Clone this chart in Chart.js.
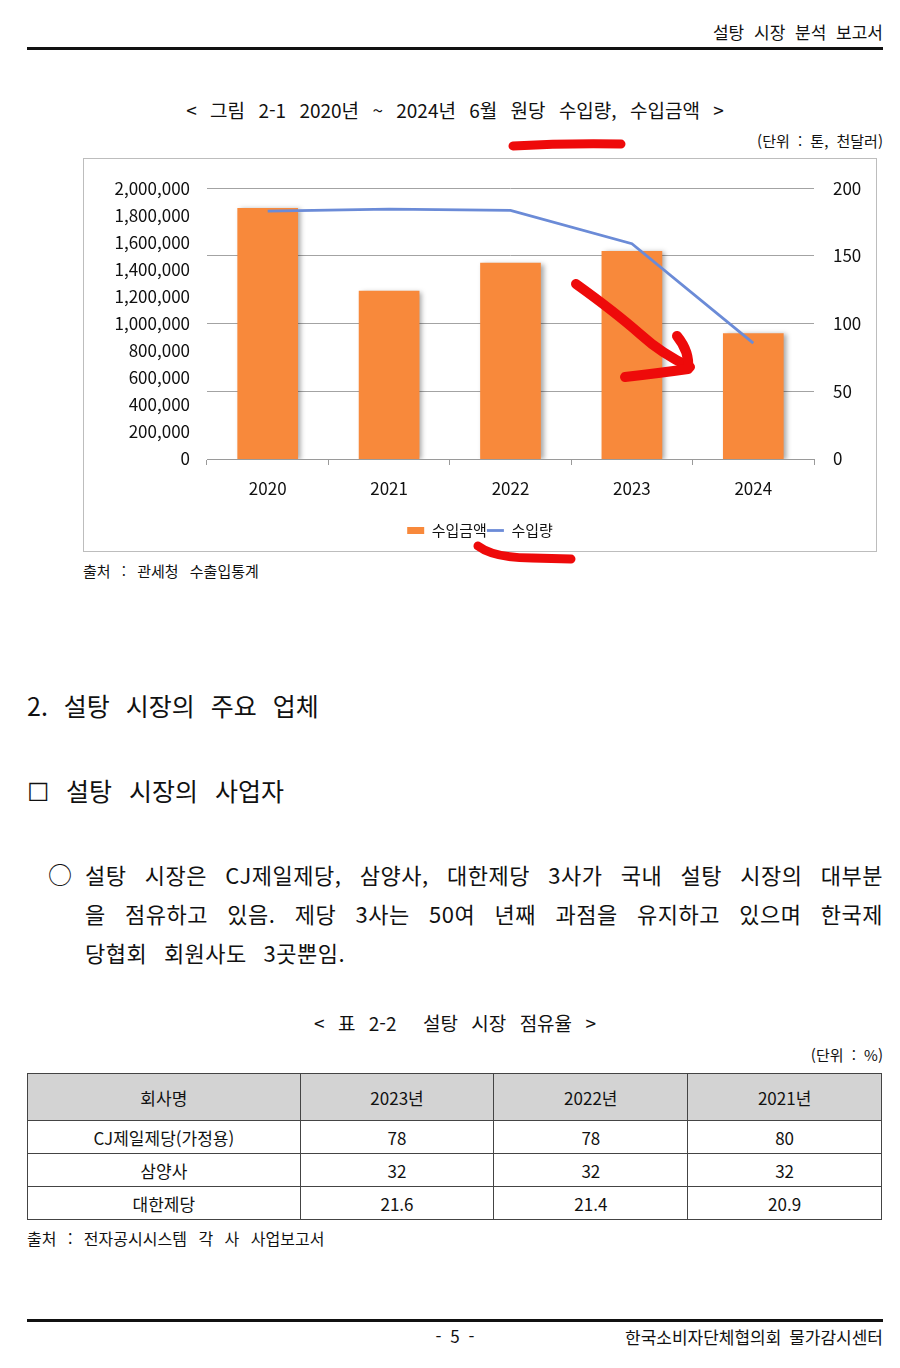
<!DOCTYPE html>
<html lang="ko">
<head>
<meta charset="utf-8">
<script src="https://cdn.jsdelivr.net/npm/chart.js@4.4.1/dist/chart.umd.min.js"></script>
<style>
  html, body { margin:0; padding:0; background:#fff; }
  body { width:900px; height:1368px; position:relative; overflow:hidden;
         font-family:"Noto Sans CJK KR","Noto Sans",sans-serif; color:#111; }
  .t { position:absolute; white-space:nowrap; line-height:30px; height:30px; }
  .rule { position:absolute; left:27px; width:856px; height:3px; background:#111; }
  #chartBox { position:absolute; left:83px; top:158px; width:794px; height:394px;
              box-sizing:border-box; border:1px solid #bdbdbd; background:#fff; }
  #chartBox canvas { position:absolute; left:0; top:0; }
  table { position:absolute; left:27px; top:1073px; width:855px; border-collapse:collapse;
          font-size:17px; color:#111; }
  td, th { border:1px solid #444; text-align:center; padding:0; font-weight:normal; }
  th { background:#d3d3d3; height:46px; }
  td { height:32px; }
  .para { position:absolute; left:85px; width:798px; font-size:22px; line-height:39px;
          letter-spacing:0.5px; }
  .para div { height:39px; white-space:nowrap; }
  .just { text-align:justify; text-align-last:justify; white-space:normal !important; }
  svg#ink { position:absolute; left:0; top:0; pointer-events:none; }
</style>
</head>
<body>
<div class="t" style="right:17px; top:17px; font-size:17px; word-spacing:5px;">설탕 시장 분석 보고서</div>
<div class="rule" style="top:47px;"></div>

<div class="t" style="left:0; width:910px; text-align:center; top:95px; font-size:19px; word-spacing:8px;">&lt; 그림 2-1 2020년 ~ 2024년 6월 원당 수입량, 수입금액 &gt;</div>
<div class="t" style="right:17px; top:126px; font-size:15px; word-spacing:4px;">(단위 : 톤, 천달러)</div>

<div id="chartBox"><canvas id="c" width="792" height="392" style="width:792px;height:392px;"></canvas></div>

<div class="t" style="left:83px; top:556px; font-size:15px; word-spacing:7px;">출처 : 관세청 수출입통계</div>

<div class="t" style="left:27px; top:690px; font-size:25px; word-spacing:9px;">2. 설탕 시장의 주요 업체</div>
<div class="t" style="left:27px; top:775px; font-size:25px; word-spacing:10px;">☐ 설탕 시장의 사업자</div>

<div class="t" style="left:48px; top:859px; font-size:24px;">○</div>
<div class="para" style="top:855px;">
  <div class="just">설탕 시장은 CJ제일제당, 삼양사, 대한제당 3사가 국내 설탕 시장의 대부분</div>
  <div class="just">을 점유하고 있음. 제당 3사는 50여 년째 과점을 유지하고 있으며 한국제</div>
  <div style="word-spacing:10px;">당협회 회원사도 3곳뿐임.</div>
</div>

<div class="t" style="left:0; width:910px; text-align:center; top:1008px; font-size:19px; word-spacing:8px;">&lt; 표 2-2 &nbsp;설탕 시장 점유율 &gt;</div>
<div class="t" style="right:17px; top:1040px; font-size:15px; word-spacing:4px;">(단위 : %)</div>

<table id="tbl">
  <colgroup><col style="width:273px"><col style="width:194px"><col style="width:194px"><col style="width:194px"></colgroup>
  <thead><tr id="thead"></tr></thead>
  <tbody id="tbody"></tbody>
</table>

<div class="t" style="left:27px; top:1223px; font-size:16px; word-spacing:7px;">출처 : 전자공시시스템 각 사 사업보고서</div>

<div class="rule" style="top:1319px;"></div>
<div class="t" style="left:0; width:910px; text-align:center; top:1321px; font-size:17px; word-spacing:4px;">- 5 -</div>
<div class="t" style="right:17px; top:1322px; font-size:17px; word-spacing:3px;">한국소비자단체협의회 물가감시센터</div>

<svg id="ink" width="900" height="1368" viewBox="0 0 900 1368">
  <g fill="none" stroke="#ee0a0a" stroke-linecap="round" stroke-linejoin="round">
    <path d="M513,146 Q565,143 621,144" stroke-width="9"/>
    <path d="M478,546 Q494,558 532,558 L571,559" stroke-width="9"/>
    <path d="M576,284 Q615,312 640,334 Q662,354 690,367" stroke-width="10"/>
    <path d="M625,377 Q660,373 688,369 Q690,352 677,336" stroke-width="10"/>
  </g>
</svg>

<script>
// ---- chart data ----
const years = ["2020", "2021", "2022", "2023", "2024"];
const importAmount = [1853000, 1242000, 1450000, 1536000, 929000];   // 수입금액 (천달러)
const importVolume = [183, 184.6, 183.6, 159, 85.6];                 // 수입량
const leftTicks = [0, 200000, 400000, 600000, 800000, 1000000, 1200000, 1400000, 1600000, 1800000, 2000000];
const rightTicks = [0, 50, 100, 150, 200];

// ---- table data ----
const tableHeader = ["회사명", "2023년", "2022년", "2021년"];
const companies = ["CJ제일제당(가정용)", "삼양사", "대한제당"];
const share2023 = ["78", "32", "21.6"];
const share2022 = ["78", "32", "21.4"];
const share2021 = ["80", "32", "20.9"];

const thead = document.getElementById('thead');
tableHeader.forEach(h => { const th = document.createElement('th'); th.textContent = h; thead.appendChild(th); });
const tbody = document.getElementById('tbody');
companies.forEach((c, i) => {
  const tr = document.createElement('tr');
  [c, share2023[i], share2022[i], share2021[i]].forEach(v => {
    const td = document.createElement('td'); td.textContent = v; tr.appendChild(td);
  });
  tbody.appendChild(tr);
});

const FONT = '"Noto Sans CJK KR", "Noto Sans", sans-serif';
const barShadow = {
  id: 'barShadow',
  beforeDatasetDraw(chart, args) {
    if (args.meta.type === 'bar') {
      const ctx = chart.ctx; ctx.save();
      ctx.shadowColor = 'rgba(0,0,0,0.35)'; ctx.shadowBlur = 5;
      ctx.shadowOffsetX = 3; ctx.shadowOffsetY = 1;
    }
  },
  afterDatasetDraw(chart, args) {
    if (args.meta.type === 'bar') chart.ctx.restore();
  }
};

new Chart(document.getElementById('c'), {
  data: {
    labels: years,
    datasets: [
      { type: 'bar', label: '수입금액', data: importAmount, yAxisID: 'y',
        backgroundColor: '#F8893B', borderWidth: 0, order: 1,
        categoryPercentage: 1.0, barPercentage: 0.5, pointStyle: 'rect' },
      { type: 'line', label: '수입량', data: importVolume, yAxisID: 'y1',
        borderColor: '#6B8BD7', backgroundColor: '#6B8BD7', borderWidth: 2.8,
        pointRadius: 0, tension: 0, order: 0, pointStyle: 'line' }
    ]
  },
  options: {
    responsive: false, animation: false, devicePixelRatio: 1,
    layout: { padding: { top: 25, bottom: 3, left: 0, right: 0 } },
    plugins: {
      tooltip: { enabled: false },
      legend: {
        position: 'bottom',
        labels: { usePointStyle: true, pointStyleWidth: 17, boxHeight: 7, padding: 0,
                  sort: (a, b) => a.datasetIndex - b.datasetIndex,
                  color: '#111', font: { family: FONT, size: 15 } }
      }
    },
    scales: {
      x: {
        offset: true,
        grid: { display: true, drawOnChartArea: false, drawTicks: true, tickLength: 6, color: '#9a9a9a', offset: true },
        border: { display: true, color: '#9a9a9a' },
        ticks: { color: '#111', padding: 13, font: { family: FONT, size: 17 } },
        afterFit(s) { s.height = 64; }
      },
      y: {
        position: 'left', min: 0, max: 2000000,
        afterBuildTicks(s) { s.ticks = leftTicks.map(v => ({ value: v })); },
        grid: { display: false, drawTicks: false },
        border: { display: false },
        ticks: { color: '#111', padding: 17, font: { family: FONT, size: 17 },
                 callback: v => v.toLocaleString('en-US') },
        afterFit(s) { s.width = 123; }
      },
      y1: {
        position: 'right', min: 0, max: 200,
        afterBuildTicks(s) { s.ticks = rightTicks.map(v => ({ value: v })); },
        grid: { display: true, drawTicks: false, color: '#a3a3a3', lineWidth: 1 },
        border: { display: false },
        ticks: { color: '#111', padding: 19, font: { family: FONT, size: 17 } },
        afterFit(s) { s.width = 62; }
      }
    }
  },
  plugins: [barShadow]
});
</script>
</body>
</html>
